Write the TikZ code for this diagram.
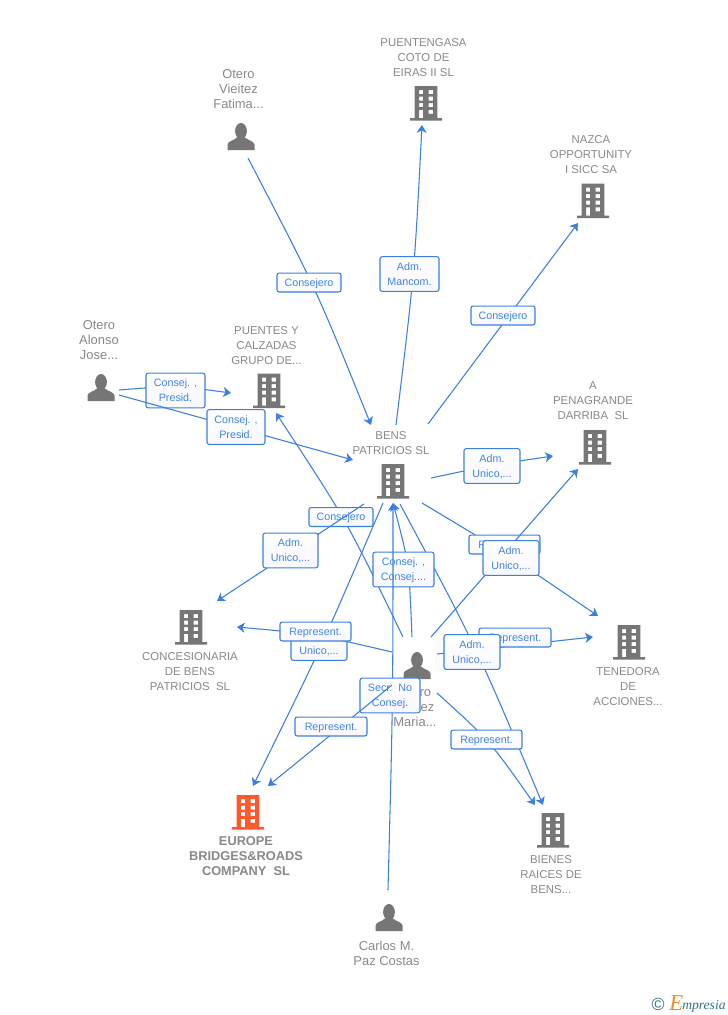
\documentclass[tikz,border=0pt]{standalone}
\usepackage{fontspec}
\setmainfont{Liberation Sans}
\newfontfamily\logofont{Liberation Serif}
\usetikzlibrary{arrows.meta}
\definecolor{linkblue}{HTML}{3B80E0}
\definecolor{labtext}{HTML}{3F84E5}
\definecolor{grayicon}{HTML}{767676}
\definecolor{graytext}{HTML}{898989}
\definecolor{orangeicon}{HTML}{FF5A2C}
\definecolor{logoteal}{HTML}{2F7487}
\definecolor{logoorange}{HTML}{F58A1F}
\tikzset{
  buildingicon/.style={minimum width=26pt,minimum height=27pt,inner sep=0pt,
    path picture={\fill[#1,even odd rule,shift={(path picture bounding box.center)}]
      (-11.3,-17) rectangle (11.3,15) (-16,15) rectangle (16,17.5)
      (-6.8,-13) rectangle (-2.8,-9) (2.6,-13) rectangle (7,-9)
      (-6.8,-6.4) rectangle (-2.8,-2.4) (2.6,-6.4) rectangle (7,-2.4)
      (-6.8,0.2) rectangle (-2.8,4.2) (2.6,0.2) rectangle (7,4.2)
      (2.6,6.8) rectangle (7,10.8) (-6.8,6.8) rectangle (-2.8,15);}},
  personicon/.style={minimum width=21pt,minimum height=21pt,inner sep=0pt,
    path picture={\fill[grayicon,shift={(path picture bounding box.center)}]
      (0,-5.5) ellipse [x radius=5.9,y radius=8]
      (-13.5,13.5) -- (-13.5,8) .. controls (-13,4.5) and (-7,4) .. (-4,1) -- (4,1)
      .. controls (7,4) and (13,4.5) .. (13.5,8) -- (13.5,13.5) -- cycle;}},
  conn/.style={draw=linkblue,line width=0.8pt,-{Stealth[length=5.8pt,width=7.5pt,inset=1.6pt]}},
  lab/.style={draw=linkblue,line width=0.8pt,rounded corners=1.6pt,top color=white,bottom color=blue!3,
    text=labtext,inner sep=0pt,align=center,font=\fontsize{8.05}{11.25}\selectfont},
  lab one/.style={lab,text height=7pt,minimum width=#1*0.75pt,minimum height=14.2pt},
  lab two/.style={lab,text height=18.2pt,text depth=1.5pt,minimum width=#1*0.75pt,minimum height=26pt},
  nametext/.style={text=graytext,inner sep=0pt,align=center,font=\fontsize{8.55}{11.25}\selectfont},
  persontext/.style={text=graytext,inner sep=0pt,align=center,font=\fontsize{9.7}{11.25}\selectfont},
  maintext/.style={text=graytext,inner sep=0pt,align=center,font=\fontsize{9.6}{11.25}\selectfont\bfseries},
}
\begin{document}
\begin{tikzpicture}[x=0.75pt,y=-0.75pt]
\useasboundingbox (0,0) rectangle (728,1015);
\fill[white] (0,0) rectangle (728,1015);

% icons
\node[buildingicon=grayicon] (puentengasa) at (426,103) {};
\node[buildingicon=grayicon] (nazca) at (593,200.5) {};
\node[buildingicon=grayicon] (puentes) at (269,390.5) {};
\node[buildingicon=grayicon] (penagrande) at (595,447) {};
\node[buildingicon=grayicon] (bens) at (393,481) {};
\node[buildingicon=grayicon] (concesionaria) at (191,627) {};
\node[buildingicon=grayicon] (tenedora) at (629,642) {};
\node[buildingicon=orangeicon] (europe) at (248,812) {};
\node[buildingicon=grayicon] (bienes) at (553,830) {};
\node[personicon] (vieitez) at (241,136.5) {};
\node[personicon] (alonso) at (101,387.5) {};
\node[personicon] (maria) at (417,665.5) {};
\node[personicon] (carlos) at (389,917.5) {};

% names
\node[nametext] (tpuentengasa) at (423.5,57.7) {PUENTENGASA\\COTO DE\\EIRAS II SL};
\node[nametext] (tnazca) at (591,154.7) {NAZCA\\OPPORTUNITY\\I SICC SA};
\node[persontext] (tvieitez) at (238.5,89) {Otero\\Vieitez\\Fatima...};
\node[persontext] (talonso) at (99,340.5) {Otero\\Alonso\\Jose...};
\node[nametext] (tpuentes) at (266.5,345.7) {PUENTES Y\\CALZADAS\\GRUPO DE...};
\node[nametext] (tbens) at (391,443.2) {BENS\\PATRICIOS SL};
\node[nametext] (tpenagrande) at (593,400.7) {A\\PENAGRANDE\\DARRIBA~~SL};
\node[nametext] (tconcesionaria) at (190,671.7) {CONCESIONARIA\\DE BENS\\PATRICIOS~~SL};
\node[nametext] (ttenedora) at (628,686.7) {TENEDORA\\DE\\ACCIONES...};
\node[maintext] (teurope) at (246,855.7) {EUROPE\\BRIDGES\&ROADS\\COMPANY~~SL};
\node[nametext] (tbienes) at (551,874.7) {BIENES\\RAICES DE\\BENS...};
\node[persontext] (tcarlos) at (386.5,953.5) {Carlos M.\\Paz Costas};
\node[persontext] (tmaria) at (415,707.5) {Otero\\Vieitez\\Maria...};

% connectors, each followed by its label
\draw[conn] ([shift={(7,21.5)}]vieitez.center) .. controls (316,288.5) .. ([shift={(-22,-56)}]bens.center);
\node[lab one=64] (l1) at (309,282.5) {Consejero};

\draw[conn] ([shift={(3,-56)}]bens.center) .. controls (414.3,275) .. ([shift={(-4,22)}]puentengasa.center);
\node[lab two=59] (l2) at (409.5,274) {Adm.\\Mancom.};

\draw[conn] ([shift={(35,-57)}]bens.center) -- ([shift={(-15,22.5)}]nazca.center);
\node[lab one=64] (l3) at (503,315.5) {Consejero};

\draw[conn] ([shift={(18,2.5)}]alonso.center) .. controls (175,385.5) .. ([shift={(-38,2.5)}]puentes.center);
\node[lab two=59] (l4) at (175.5,390.5) {Consej. ,\\Presid.};

\draw[conn] ([shift={(18,7.5)}]alonso.center) -- ([shift={(-40,-21)}]bens.center);
\node[lab two=58] (l5) at (236,427) {Consej. ,\\Presid.};

\draw[conn] ([shift={(38,-3)}]bens.center) .. controls (492,465) .. ([shift={(-42,9)}]penagrande.center);
\node[lab two=56] (l6) at (492,466) {Adm.\\Unico,...};

\draw[conn] ([shift={(29,22)}]bens.center) .. controls (508,554.5) .. ([shift={(-31,-26)}]tenedora.center);
\node[lab one=71] (l8) at (504.5,544.5) {Represent.};

\draw[conn] ([shift={(14,-28.5)}]maria.center) -- ([shift={(-17,22)}]penagrande.center);
\node[lab two=56] (l7) at (511,558) {Adm.\\Unico,...};

\draw[conn] ([shift={(20,-11.5)}]maria.center) -- ([shift={(-36,-5)}]tenedora.center);
\node[lab one=72] (l14) at (515,637.5) {Represent.};

\draw[conn] ([shift={(7,23)}]bens.center) .. controls (477,648) .. ([shift={(-10,-25)}]bienes.center);
\node[lab two=56] (l15) at (472,652) {Adm.\\Unico,...};

\draw[conn] ([shift={(-10,22)}]bens.center) .. controls (322,646) .. ([shift={(5,-26)}]europe.center);
\node[lab two=56] (l12) at (319,643) {Adm.\\Unico,...};

\draw[conn] ([shift={(-25,-13.5)}]maria.center) .. controls (315,634) .. ([shift={(46,0)}]concesionaria.center);
\node[lab one=71] (l11) at (315.5,631.5) {Represent.};

\draw[conn] ([shift={(-14,-28.5)}]maria.center) .. controls (346.5,520.3) .. ([shift={(7,22.5)}]puentes.center);
\node[lab one=64] (l9) at (341,517) {Consejero};

\draw[conn] ([shift={(-29,23)}]bens.center) -- ([shift={(26,-26)}]concesionaria.center);
\node[lab two=55] (l10) at (290.5,550.5) {Adm.\\Unico,...};

\draw[conn] ([shift={(-5,-28.5)}]maria.center) .. controls (409,563) .. ([shift={(0,22)}]bens.center);
\node[lab two=61] (l18) at (403.5,569.5) {Consej. ,\\Consej....};

\draw[conn] ([shift={(-1,-27.5)}]carlos.center) .. controls (393,698) .. ([shift={(0,22)}]bens.center);
\node[lab two=60] (l17) at (390,695.5) {Secr.~~No\\Consej.};

\draw[conn] ([shift={(-25,19.5)}]maria.center) -- ([shift={(20,-26)}]europe.center);
\node[lab one=72] (l13) at (331,726.5) {Represent.};

\draw[conn] ([shift={(20,27.5)}]maria.center) .. controls (490,741) .. ([shift={(-18,-25)}]bienes.center);
\node[lab one=71] (l16) at (486.5,739.5) {Represent.};

% logo
\node[inner sep=0pt,text=logoteal,font=\fontsize{13.2}{14}\selectfont] (logoc) at (658,1004) {©};
\node[inner sep=0pt,anchor=base west,text=logoorange,font=\logofont\itshape\fontsize{17}{17}\selectfont] (logoe) at (669,1010) {E};
\node[inner sep=0pt,anchor=base west,text=logoteal,font=\logofont\itshape\fontsize{10.2}{11}\selectfont] (logot) at (682,1009) {mpresia};
\end{tikzpicture}
\end{document}
